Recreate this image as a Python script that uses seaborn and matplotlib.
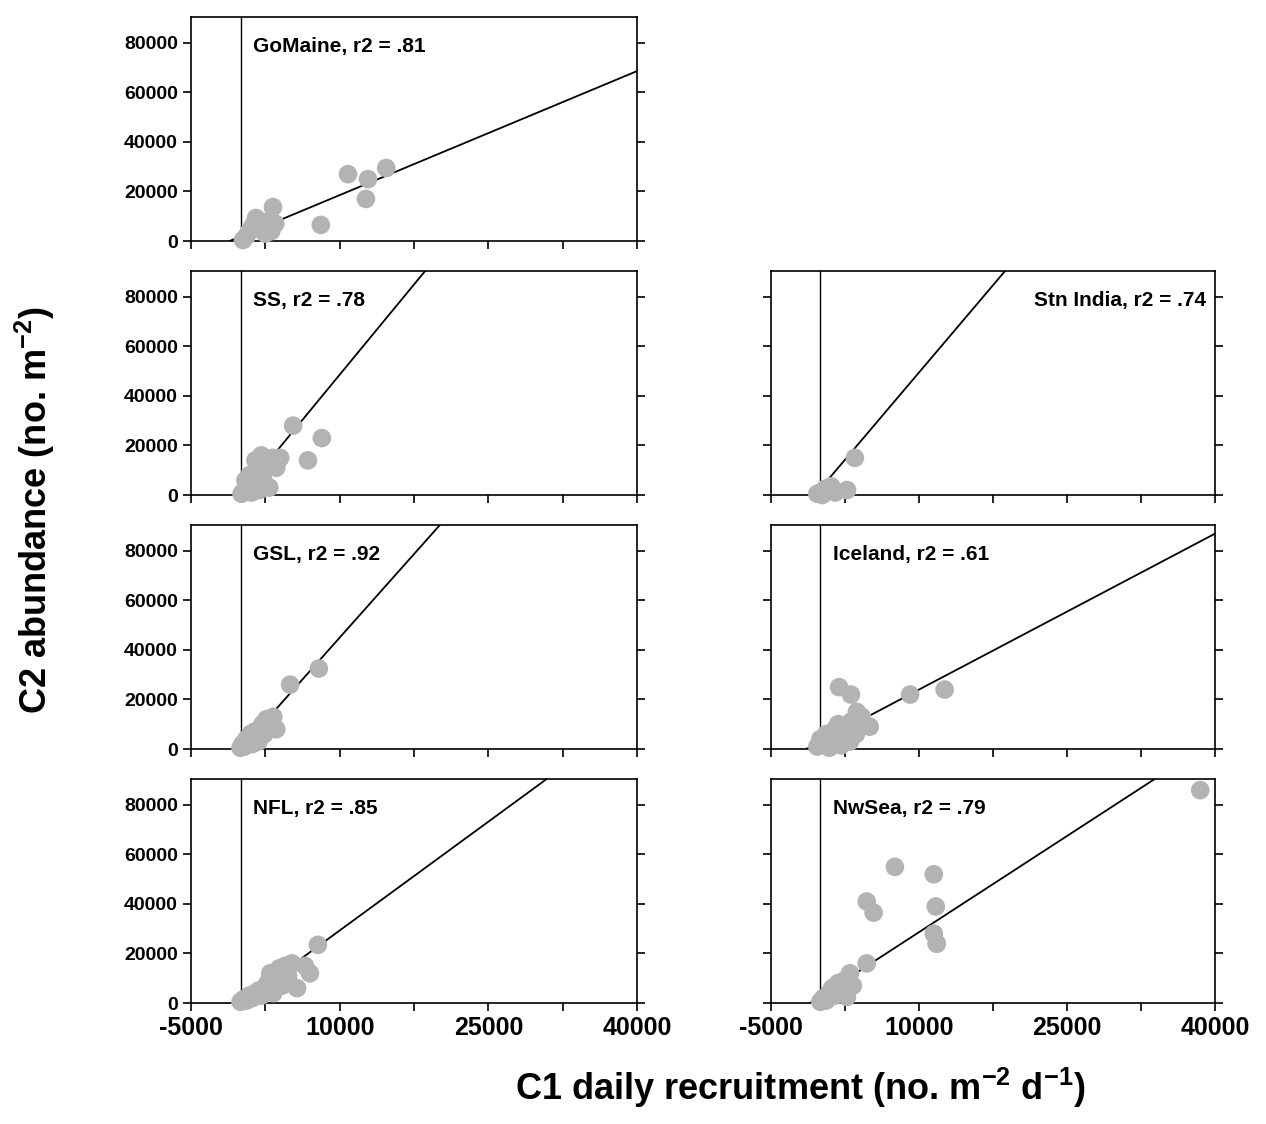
import matplotlib
matplotlib.use("Agg")
import matplotlib.pyplot as plt
import numpy as np
import seaborn as sns

sns.set_theme(style="white")
plt.rcParams["font.family"] = ["Liberation Sans", "DejaVu Sans"]
plt.rcParams["font.weight"] = "bold"
plt.rcParams["text.color"] = "black"
plt.rcParams["xtick.color"] = "black"
plt.rcParams["ytick.color"] = "black"
plt.rcParams["mathtext.fontset"] = "custom"
plt.rcParams["mathtext.bf"] = "Liberation Sans:bold"
plt.rcParams["mathtext.rm"] = "Liberation Sans:bold"
plt.rcParams["mathtext.default"] = "bf"
plt.rcParams["axes.unicode_minus"] = False

# panel name, r2 label, fitted slope/intercept, and points (C1 recruitment, C2 abundance)
names = ["GoMaine", "SS", "GSL", "NFL", "Stn India", "Iceland", "NwSea"]
r2 = [".81", ".78", ".92", ".85", ".74", ".61", ".79"]
slopes = [1.67, 4.86, 4.5, 2.93, 4.7, 2.1, 2.59]
intercepts = [1840, 0, 0, 0, 2500, 3000, 2720]

gomaine_x = [250, 600, 900, 1200, 1560, 1800, 2100, 2500, 2800, 3270, 3100, 3500, 8100, 10840, 12860, 12650, 14700]
gomaine_y = [400, 2000, 4000, 6000, 9300, 5000, 7000, 3000, 8000, 13700, 4000, 7000, 6500, 27000, 25000, 17000, 29500]
ss_x = [100, 300, 500, 700, 900, 1100, 1300, 1500, 1700, 1900, 2100, 2300, 2600, 2900, 3200, 3600, 4000, 5300, 6800, 8200]
ss_y = [500, 1500, 6000, 3000, 8000, 1000, 4000, 14000, 9000, 2000, 16000, 6000, 12000, 3000, 15000, 11000, 15000, 28000, 14000, 23000]
gsl_x = [0, 200, 400, 600, 800, 1000, 1200, 1400, 1600, 1800, 2000, 2200, 2400, 2600, 2800, 3000, 3300, 3600, 5000, 7900]
gsl_y = [500, 2000, 1000, 4000, 3000, 6000, 2000, 7000, 5000, 3000, 8000, 10000, 6000, 12000, 9000, 11000, 13000, 8000, 26000, 32500]
nfl_x = [0, 300, 600, 900, 1200, 1500, 1800, 2100, 2400, 2700, 3000, 3300, 3600, 3900, 4200, 4500, 4800, 5200, 5700, 6500, 7000, 7800]
nfl_y = [500, 1500, 1000, 3000, 2000, 4000, 5000, 3000, 6000, 8000, 12000, 4000, 10000, 14000, 7000, 15000, 11000, 16000, 6000, 15000, 12000, 23500]
india_x = [-300, 0, 200, 500, 800, 1100, 1500, 2700, 3500]
india_y = [500, 1000, 0, 2500, 1500, 3500, 1000, 2000, 15000]
iceland_x = [-300, 0, 300, 600, 900, 1200, 1500, 1800, 2100, 2400, 2700, 3000, 3300, 1900, 3100, 3600, 3100, 4000, 3700, 4200, 5000, 9100, 12600]
iceland_y = [1000, 4000, 2000, 6000, 500, 3000, 8000, 10000, 1500, 5000, 9000, 3000, 7000, 25000, 11000, 6000, 22000, 12500, 15000, 13000, 9000, 22000, 24000]
nwsea_x = [0, 300, 600, 900, 1200, 1500, 1800, 2100, 2400, 2700, 3000, 3300, 4700, 4700, 5400, 7560, 11500, 11700, 11500, 11800, 11800, 38500]
nwsea_y = [500, 2000, 1000, 4000, 6000, 3000, 8000, 5000, 9000, 2500, 12000, 7000, 16000, 41000, 36500, 55000, 52000, 39000, 28000, 24000, 24000, 86000]
xs = [gomaine_x, ss_x, gsl_x, nfl_x, india_x, iceland_x, nwsea_x]
ys = [gomaine_y, ss_y, gsl_y, nfl_y, india_y, iceland_y, nwsea_y]

W, H = 1266, 1124
fig = plt.figure(figsize=(W / 100, H / 100), dpi=100)
positions = [(0, 0), (0, 1), (0, 2), (0, 3), (1, 1), (1, 2), (1, 3)]
lefts = [191, 771]
widths = [446, 444]

for i, (col, row) in enumerate(positions):
    zero_px = 241 + 254 * row
    ax = fig.add_axes([lefts[col] / W, 1 - zero_px / H, widths[col] / W, 224 / H])
    ax.set_xlim(-5000, 40000)
    ax.set_ylim(0, 90500)
    ax.axvline(0, color="black", lw=1)
    xl = np.linspace(-intercepts[i] / slopes[i], 40000, 100)
    ax.plot(xl, slopes[i] * xl + intercepts[i], color="black", lw=1.3)
    sns.scatterplot(x=xs[i], y=ys[i], ax=ax, color="#b3b3b3", s=180, edgecolor="none", clip_on=False, zorder=3)
    ax.set_xticks(np.arange(-5000, 40001, 7500))
    ax.set_yticks([0, 20000, 40000, 60000, 80000])
    ax.tick_params(axis="y", which="both", left=True, right=True, direction="out", length=6, width=1.2, labelsize=14)
    ax.tick_params(axis="x", bottom=True, direction="out", length=6, width=1.2, labelsize=18)
    if col == 1:
        ax.set_yticklabels([])
    else:
        ax.set_yticklabels([str(v) for v in [0, 20000, 40000, 60000, 80000]], fontweight="bold")
    if row == 3:
        ax.set_xticklabels(["-5000", "", "10000", "", "25000", "", "40000"], fontweight="bold")
    else:
        ax.set_xticklabels([])
    for s in ax.spines.values():
        s.set_color("black")
        s.set_linewidth(1.2)
    label = f"{names[i]}, r2 = {r2[i]}"
    if names[i] == "Stn India":
        ax.text(0.98, 0.91, label, transform=ax.transAxes, ha="right", va="top", fontsize=15, fontweight="bold")
    else:
        ax.text(0.14, 0.91, label, transform=ax.transAxes, ha="left", va="top", fontsize=15, fontweight="bold")

fig.text(35 / W, 1 - 510 / H, "C2 abundance (no. m$^{-2}$)", rotation=90, ha="center", va="center",
         fontsize=26, fontweight="bold")
fig.text(800 / W, 1 - 1088 / H, "C1 daily recruitment (no. m$^{-2}$ d$^{-1}$)", ha="center", va="center",
         fontsize=26, fontweight="bold")
fig.savefig("out.png", dpi=100)
